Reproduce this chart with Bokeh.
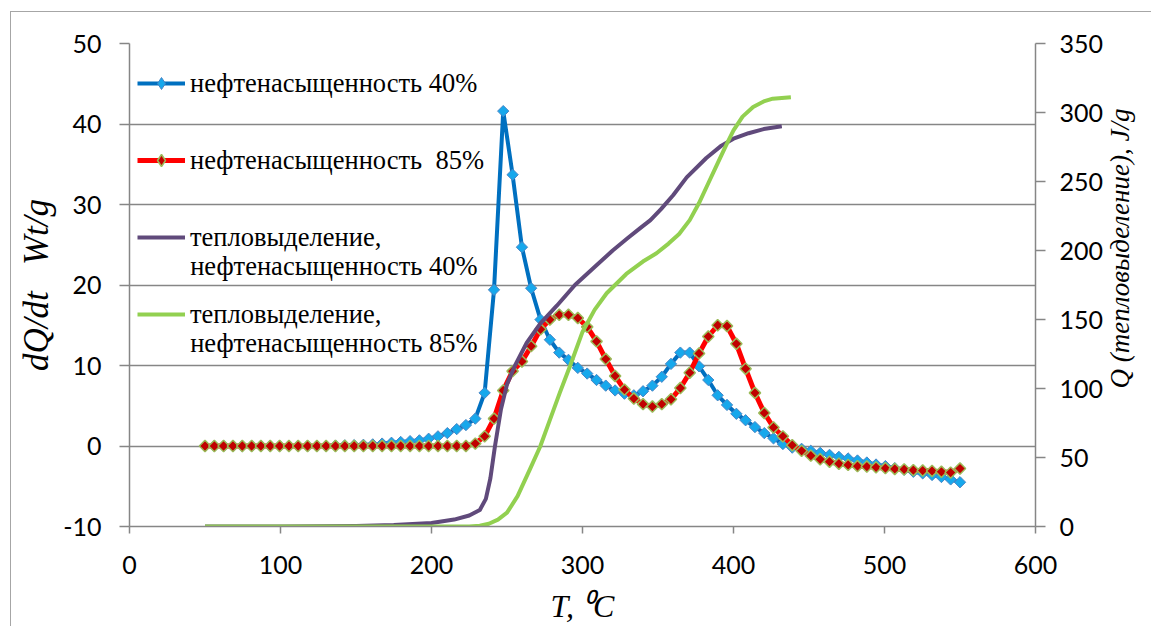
import numpy as np
from bokeh.plotting import figure
from bokeh.models import (Range1d, LinearAxis, FixedTicker, Legend, LegendItem,
                          Label, CustomJSTickFormatter)
from bokeh.embed import file_html
from bokeh.resources import INLINE

# ---------------- data ----------------
T = [50.0, 56.2, 62.3, 68.5, 74.7, 80.9, 87.0, 93.2, 99.4, 105.6,
     111.7, 117.9, 124.1, 130.2, 136.4, 142.6, 148.8, 154.9, 161.1, 167.3,
     173.5, 179.6, 185.8, 192.0, 198.1, 204.3, 210.5, 216.7, 222.8, 229.0,
     235.2, 241.4, 247.5, 253.7, 259.9, 266.0, 272.2, 278.4, 284.6, 290.7,
     296.9, 303.1, 309.3, 315.4, 321.6, 327.8, 334.0, 340.1, 346.3, 352.5,
     358.6, 364.8, 371.0, 377.2, 383.3, 389.5, 395.7, 401.9, 408.0, 414.2,
     420.4, 426.5, 432.7, 438.9, 445.1, 451.2, 457.4, 463.6, 469.8, 475.9,
     482.1, 488.3, 494.4, 500.6, 506.8, 513.0, 519.1, 525.3, 531.5, 537.7,
     543.8, 550.0]

rate_40 = [0, 0, 0, 0, 0, 0, 0, 0, 0, 0,
           0, 0, 0, 0, 0.05, 0.08, 0.1, 0.15, 0.2, 0.3,
           0.4, 0.5, 0.6, 0.7, 0.9, 1.2, 1.6, 2.1, 2.6, 3.4,
           6.6, 19.4, 41.6, 33.7, 24.7, 19.6, 15.7, 13.2, 11.6, 10.7,
           9.7, 9.0, 8.2, 7.5, 6.9, 6.5, 6.3, 6.8, 7.5, 8.6,
           10.2, 11.6, 11.6, 9.9, 8.2, 6.3, 5.1, 4.0, 3.2, 2.35,
           1.6, 0.95, 0.25, -0.2, -0.35, -0.6, -0.85, -1.1, -1.35, -1.55,
           -1.8, -2.05, -2.3, -2.5, -2.75, -2.95, -3.2, -3.4, -3.6, -3.85,
           -4.15, -4.5]

rate_85 = [0, 0, 0, 0, 0, 0, 0, 0, 0, 0,
           0, 0, 0, 0, 0, 0, 0, 0, 0, 0,
           0, 0, 0, 0, 0, 0, 0, 0, 0, 0.3,
           1.2, 3.4, 6.9, 9.3, 10.5, 12.4, 14.5, 15.7, 16.3, 16.3,
           15.9, 14.8, 13.0, 10.8, 8.7, 7.0, 5.9, 5.2, 4.9, 5.2,
           5.8, 7.2, 9.1, 11.5, 13.6, 15.0, 14.9, 12.7, 9.6, 6.6,
           4.1, 2.3, 1.2, 0.1, -0.6, -1.2, -1.65, -1.95, -2.2, -2.35,
           -2.5, -2.55, -2.65, -2.75, -2.85, -2.9, -3.0, -3.05, -3.1, -3.2,
           -3.3, -2.8]

T_heat_40 = [50, 100, 150, 175, 200, 215, 225, 232, 236, 239,
             242, 246, 250, 255, 263, 272, 283, 295, 310, 320,
             330, 338, 345, 352, 360, 369, 382, 392, 400, 410,
             420, 432]
heat_40 = [0, 0, 0.3, 1, 2.5, 5, 8, 12, 20, 35,
           58, 85, 103, 116, 133, 147, 160, 175, 190, 200,
           209, 216, 222, 230, 240, 253, 267, 276, 281, 285,
           288, 290]

T_heat_85 = [50, 100, 150, 200, 225, 232, 238, 244, 250, 257,
             265, 272, 278, 285, 292, 300, 308, 316, 329, 340,
             349, 357, 364, 371, 377, 383, 389, 395, 400, 406,
             413, 420, 426, 438]
heat_85 = [0, 0, 0, 0, 0, 0.5, 2, 5, 10, 22,
           41, 58, 76, 97, 117, 141, 157, 169, 183, 192,
           198, 205, 212, 222, 234, 248, 262, 276, 287, 297,
           304, 308, 310, 311]

x_ticks = [0, 100, 200, 300, 400, 500, 600]
left_ticks = [-10, 0, 10, 20, 30, 40, 50]
right_ticks = [0, 50, 100, 150, 200, 250, 300, 350]

labels_series = ["нефтенасыщенность 40%", "нефтенасыщенность  85%",
                 "тепловыделение,", "тепловыделение,"]
second_lines = ["нефтенасыщенность 40%", "нефтенасыщенность 85%"]
x_title = "T, \u2070C"
left_title = "dQ/dt\u00a0\u00a0\u00a0Wt/g"
right_title = "Q (тепловыделение), J/g"

# ---------------- figure ----------------
GRAY = "#868686"
TICK_FONT = "Lato"
SERIF = "Liberation Serif"

p = figure(width=1141, height=615, output_backend="svg", toolbar_location=None,
           x_range=Range1d(0, 600), y_range=Range1d(-10, 50),
           min_border_left=118, min_border_right=117,
           min_border_top=31, min_border_bottom=101)
p.styles = {"margin-left": "10px", "margin-top": "11px",
            "border-left": "1.5px solid #A6A6A6", "border-top": "1.5px solid #A6A6A6"}
p.extra_y_ranges = {"q": Range1d(0, 350)}
p.outline_line_color = None
p.background_fill_color = "white"
p.border_fill_color = "white"

p.xgrid.visible = False
p.ygrid.ticker = FixedTicker(ticks=left_ticks)
p.ygrid.grid_line_color = GRAY
p.ygrid.grid_line_width = 1.5

right_axis = LinearAxis(y_range_name="q")
p.add_layout(right_axis, "right")

p.xaxis.ticker = FixedTicker(ticks=x_ticks)
p.yaxis[0].ticker = FixedTicker(ticks=left_ticks)
p.yaxis[0].formatter = CustomJSTickFormatter(code="return String(tick)")
right_axis.ticker = FixedTicker(ticks=right_ticks)

for ax in [p.xaxis[0], p.yaxis[0], right_axis]:
    ax.axis_line_color = GRAY
    ax.axis_line_width = 1.5
    ax.major_tick_line_color = GRAY
    ax.major_tick_line_width = 1.5
    ax.minor_tick_line_color = None
    ax.major_tick_in = 0
    ax.major_label_text_font = TICK_FONT
    ax.major_label_text_font_size = "25px"
    ax.major_label_text_color = "black"
    ax.axis_label_text_font = SERIF
    ax.axis_label_text_font_style = "italic"
    ax.axis_label_text_color = "black"

p.xaxis[0].major_tick_out = 7
p.xaxis[0].major_label_standoff = 22
p.yaxis[0].major_tick_out = 10
p.yaxis[0].major_label_standoff = 18
right_axis.major_tick_out = 10
right_axis.major_label_standoff = 14

p.xaxis[0].axis_label = x_title
p.xaxis[0].axis_label_text_font_size = "32px"
p.xaxis[0].axis_label_standoff = 11

p.yaxis[0].axis_label = left_title
p.yaxis[0].axis_label_text_font_size = "35px"
p.yaxis[0].axis_label_standoff = 4

# right title: a bare axis whose single tick label carries the vertical title
right_title_axis = LinearAxis(y_range_name="q", ticker=FixedTicker(ticks=[100]),
                              major_label_overrides={100: right_title},
                              major_label_orientation=np.pi / 2,
                              major_label_standoff=13,
                              major_label_text_font=SERIF,
                              major_label_text_font_style="italic",
                              major_label_text_font_size="27px",
                              major_label_text_color="black",
                              axis_line_color=None, major_tick_line_color=None,
                              minor_tick_line_color=None, major_tick_out=0,
                              major_tick_in=0)
p.add_layout(right_title_axis, "right")

# ---------------- series ----------------
blue_line = p.line(T, rate_40, line_color="#0070C0", line_width=4, line_join="round")
blue_pts = p.scatter(T, rate_40, marker="square", angle=np.pi / 4, size=8,
                     fill_color="#17A8EC", line_color="#4A86C5", line_width=1)
red_line = p.line(T, rate_85, line_color="#FF0000", line_width=5, line_join="round")
red_pts = p.scatter(T, rate_85, marker="square", angle=np.pi / 4, size=8,
                    fill_color="#C00000", line_color="#9BBB59", line_width=1.5)
purple = p.line(T_heat_40, heat_40, y_range_name="q", line_color="#604A7B",
                line_width=4, line_join="round")
green = p.line(T_heat_85, heat_85, y_range_name="q", line_color="#92D050",
               line_width=4, line_join="round")

# legend keys: diamond markers of the same series, hidden in the plot itself
blue_key = p.scatter(T, rate_40, marker="diamond", fill_color="#17A8EC",
                     line_color="#4A86C5", line_width=1, visible=False)
red_key = p.scatter(T, rate_85, marker="diamond", fill_color="#C00000",
                    line_color="#9BBB59", line_width=1.5, visible=False)

legend = Legend(items=[
    LegendItem(label=labels_series[0], renderers=[blue_line, blue_key]),
    LegendItem(label=labels_series[1], renderers=[red_line, red_key]),
    LegendItem(label=labels_series[2], renderers=[purple]),
    LegendItem(label=labels_series[3], renderers=[green]),
], location="top_left")
legend.margin = 0
legend.padding = 8
legend.spacing = 13
legend.label_height = 64
legend.glyph_height = 30
legend.glyph_width = 48
legend.label_standoff = 5
legend.background_fill_alpha = 0
legend.border_line_alpha = 0
legend.inactive_fill_alpha = 0
legend.label_text_font = SERIF
legend.label_text_font_size = "26.5px"
legend.label_text_color = "black"
p.add_layout(legend)

# helpers to place legend continuation lines by pixel position in the frame
FX0, FX1, FY0, FY1 = 129.3, 1036.0, 43.5, 526.5
def dx(px):
    return (px - FX0) / (FX1 - FX0) * 600
def dy(py):
    return 50 - (py - FY0) / (FY1 - FY0) * 60

for txt, py in zip(second_lines, [266, 343]):
    p.add_layout(Label(x=dx(190), y=dy(py), text=txt, text_font=SERIF,
                       text_font_size="26.5px", text_baseline="middle",
                       text_align="left", text_color="black"))

open("out.html", "w").write(file_html(p, INLINE))
